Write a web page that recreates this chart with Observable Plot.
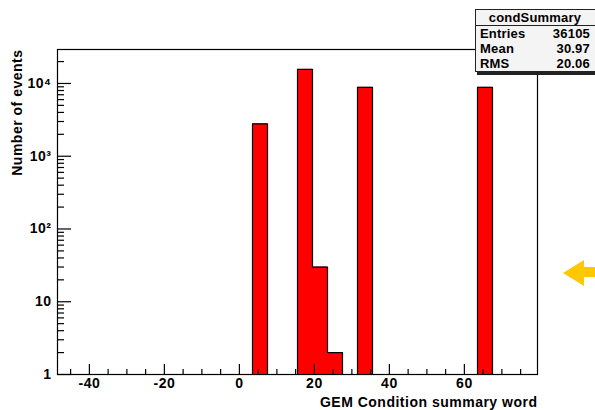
<!DOCTYPE html>
<html>
<head>
<meta charset="utf-8">
<script src="https://cdn.jsdelivr.net/npm/d3@7"></script>
<script src="https://cdn.jsdelivr.net/npm/@observablehq/plot@0.6"></script>
<style>
  html, body { margin: 0; padding: 0; background: #fff; }
  body { width: 595px; height: 410px; overflow: hidden; position: relative;
         font-family: "Liberation Sans", Arial, sans-serif; font-weight: bold; }
  #chart { position: absolute; left: 0; top: 0; }
  #stats { position: absolute; left: 475px; top: 9px; width: 130px; height: 61px;
           border: 1px solid #222; background: #f4f4f4; box-shadow: 2px 3px 0 #222;
           font-size: 13px; color: #000; letter-spacing: 0.2px; }
  #stats .hdr { height: 15px; line-height: 15px; text-align: center; border-bottom: 1px solid #222;
                padding-right: 12px; }
  #stats .row { height: 15px; line-height: 15px; display: flex; justify-content: space-between;
                padding-left: 4px; padding-right: 16px; }
  #arrow { position: absolute; left: 0; top: 0; }
</style>
</head>
<body>
<div id="chart"></div>
<div id="stats"></div>
<svg id="arrow" width="595" height="410"><polygon points="563,273 584,260 584,267 595,267 595,277 584,277 584,286" fill="#ffc800"/></svg>
<script>
// ---- data ----
const binLow = [3.5, 15.5, 19.5, 23.5, 31.5, 63.5];
const binWidth = 4;
const counts = [2780, 15600, 30, 2, 8850, 8843];
const xDomain = [-48.5, 79.5];
const yDomain = [1, 29300];
const xMajorTicks = [-40, -20, 0, 20, 40, 60];
const xMinorTicks = [-45, -35, -30, -25, -15, -10, -5, 5, 10, 15, 25, 30, 35, 45, 50, 55, 65, 70, 75];
const yMajorTicks = [1, 10, 100, 1000, 10000];
const yMinorTicks = [2,3,4,5,6,7,8,9,20,30,40,50,60,70,80,90,200,300,400,500,600,700,800,900,
                     2000,3000,4000,5000,6000,7000,8000,9000,20000];
const xTitle = "GEM Condition summary word";
const yTitle = "Number of events";
const statsTitle = "condSummary";
const statsNames = ["Entries", "Mean", "RMS"];
const statsValues = ["36105", "30.97", "20.06"];

const bins = binLow.map((x, i) => ({x1: x, x2: x + binWidth, count: counts[i]}));

// outline of the histogram (one polyline per contiguous group of bins)
const outline = [];
let g = -1, prevEnd = null;
for (const b of bins) {
  if (prevEnd === null || b.x1 !== prevEnd) {
    if (prevEnd !== null) outline.push({x: prevEnd, y: 1, g});
    g++;
    outline.push({x: b.x1, y: 1, g});
  }
  outline.push({x: b.x1, y: b.count, g});
  outline.push({x: b.x2, y: b.count, g});
  prevEnd = b.x2;
}
outline.push({x: prevEnd, y: 1, g});

const sup = {"2": "\u00b2", "3": "\u00b3", "4": "\u2074"};
const yFmt = d => d === 1 ? "1" : d === 10 ? "10" : "10" + sup[String(Math.round(Math.log10(d)))];

const W = 595, H = 410, mL = 57, mR = 58, mT = 49, mB = 36;
const fw = W - mL - mR, fh = H - mT - mB;

const chart = Plot.plot({
  width: W, height: H,
  marginLeft: mL, marginRight: mR, marginTop: mT, marginBottom: mB,
  style: {fontFamily: '"Liberation Sans", Arial, sans-serif', fontWeight: "bold", fontSize: "14px",
          color: "#000", background: "#fff", letterSpacing: "0.5px"},
  x: {domain: xDomain, axis: null},
  y: {type: "log", domain: yDomain, axis: null},
  marks: [
    Plot.rect(bins, {x1: "x1", x2: "x2", y1: () => 1, y2: "count", fill: "#ff0000"}),
    Plot.line(outline, {x: "x", y: "y", z: "g", stroke: "#000", strokeWidth: 1.2}),
    Plot.frame({stroke: "#000", strokeWidth: 1.2}),
    Plot.tickX(xMajorTicks, {x: d => d, insetTop: fh - 10, stroke: "#000", strokeWidth: 1.2}),
    Plot.tickX(xMinorTicks, {x: d => d, insetTop: fh - 5, stroke: "#000", strokeWidth: 1.2}),
    Plot.tickY(yMajorTicks, {y: d => d, insetRight: fw - 14, stroke: "#000", strokeWidth: 1.2}),
    Plot.tickY(yMinorTicks, {y: d => d, insetRight: fw - 7, stroke: "#000", strokeWidth: 1.2}),
    Plot.axisX({ticks: xMajorTicks, tickSize: 0, tickPadding: 4, label: null,
                tickFormat: d => String(d), fontSize: 14, fontWeight: "bold"}),
    Plot.axisY({ticks: yMajorTicks, tickSize: 0, tickPadding: 6, label: null,
                tickFormat: yFmt, fontSize: 14, fontWeight: "bold"}),
    Plot.text([xTitle], {frameAnchor: "bottom-right", dy: 28, textAnchor: "end", lineAnchor: "middle",
                         fontSize: 14, fontWeight: "bold"}),
    Plot.text([yTitle], {frameAnchor: "top-left", dx: -40, rotate: -90, textAnchor: "end", lineAnchor: "middle",
                         fontSize: 14, fontWeight: "bold"})
  ]
});
document.getElementById("chart").appendChild(chart);

const stats = document.getElementById("stats");
const hdr = document.createElement("div");
hdr.className = "hdr"; hdr.textContent = statsTitle;
stats.appendChild(hdr);
statsNames.forEach((n, i) => {
  const r = document.createElement("div");
  r.className = "row";
  const a = document.createElement("span"); a.textContent = n;
  const b = document.createElement("span"); b.textContent = statsValues[i];
  r.appendChild(a); r.appendChild(b);
  stats.appendChild(r);
});
</script>
</body>
</html>
